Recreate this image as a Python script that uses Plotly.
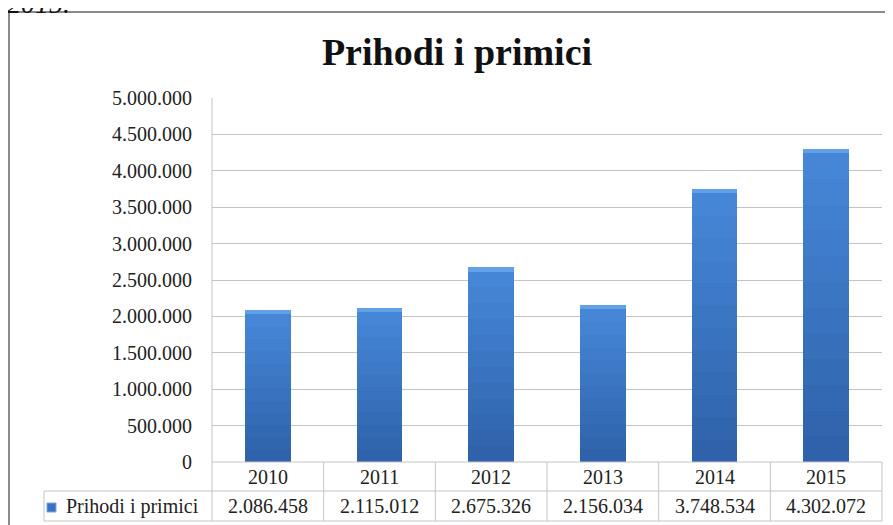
import plotly.graph_objects as go

# ---- data ----
years = ["2010", "2011", "2012", "2013", "2014", "2015"]
values = [2086458, 2115012, 2675326, 2156034, 3748534, 4302072]
series_name = "Prihodi i primici"
chart_title = "Prihodi i primici"
y_tick_values = [0, 500000, 1000000, 1500000, 2000000, 2500000, 3000000,
                 3500000, 4000000, 4500000, 5000000]

# ---- geometry (screen pixels; page body has an 8px margin) ----
OFF = 8
W, H = 893 - OFF, 525 - OFF
L, R, T, B = 212, 882, 98, 462


def px(x):
    return (x - L) / (R - L)


def py(y):
    return (B - y) / (B - T)


def fmt(v):
    return f"{v:,}".replace(",", ".")


FONT = "Liberation Serif"
GRID = "#c4c4c4"
TXT = "#222222"
FS = 20

# gradient segments (bottom dark -> top light) plus light bevel cap
top_rgb = (0x46, 0x88, 0xD8)
bot_rgb = (0x2E, 0x60, 0xA8)
n_seg = 12
cap = 60000

xidx = list(range(len(years)))

fig = go.Figure()
for i in range(n_seg):
    t = (i + 0.5) / n_seg
    c = tuple(round(bot_rgb[k] + (top_rgb[k] - bot_rgb[k]) * t) for k in range(3))
    fig.add_trace(go.Bar(
        x=xidx,
        y=[(v - cap) / n_seg for v in values],
        marker=dict(color="rgb(%d,%d,%d)" % c, line=dict(width=0)),
        width=0.41,
        hoverinfo="skip",
        showlegend=False,
    ))
fig.add_trace(go.Bar(
    x=xidx, y=[cap for v in values],
    marker=dict(color="#62a0e8", line=dict(width=0)),
    width=0.41, hoverinfo="skip", showlegend=False,
))

shapes = []
line = dict(color=GRID, width=1)
# table horizontal lines
shapes.append(dict(type="line", xref="paper", yref="paper", x0=px(44), x1=px(R), y0=py(491), y1=py(491), line=line))
shapes.append(dict(type="line", xref="paper", yref="paper", x0=px(44), x1=px(R), y0=py(521), y1=py(521), line=line))
shapes.append(dict(type="line", xref="paper", yref="paper", x0=px(L), x1=px(R), y0=py(B), y1=py(B), line=line))
# table vertical lines
shapes.append(dict(type="line", xref="paper", yref="paper", x0=px(44), x1=px(44), y0=py(491), y1=py(521), line=line))
shapes.append(dict(type="line", xref="paper", yref="paper", x0=px(L), x1=px(L), y0=py(T), y1=py(521), line=line))
ncat = len(years)
for i in range(1, ncat + 1):
    xx = L + (R - L) * i / ncat
    shapes.append(dict(type="line", xref="paper", yref="paper", x0=px(xx), x1=px(xx), y0=py(B), y1=py(521), line=line))
# legend key
shapes.append(dict(type="rect", xref="paper", yref="paper", x0=px(47), x1=px(56), y0=py(512), y1=py(503),
                   fillcolor="#3a72c2", line=dict(color="#7aa6de", width=1)))
# outer border
shapes.append(dict(type="rect", xref="paper", yref="paper", x0=px(9), x1=px(905), y0=py(12), y1=py(540),
                   line=dict(color="#8a8a8a", width=2), fillcolor="rgba(0,0,0,0)"))

annotations = []
for i, (yr, v) in enumerate(zip(years, values)):
    annotations.append(dict(x=i, xref="x", y=py(477), yref="paper", text=yr, showarrow=False,
                            font=dict(family=FONT, size=FS, color=TXT), xanchor="center", yanchor="middle"))
    annotations.append(dict(x=i, xref="x", y=py(506), yref="paper", text=fmt(v), showarrow=False,
                            font=dict(family=FONT, size=FS, color=TXT), xanchor="center", yanchor="middle"))
annotations.append(dict(x=px(64), xref="paper", y=py(506), yref="paper", text=series_name, showarrow=False,
                        font=dict(family=FONT, size=FS, color=TXT), xanchor="left", yanchor="middle"))
annotations.append(dict(x=px(5), xref="paper", y=py(3), yref="paper", text="<i>2015.</i>", showarrow=False,
                        font=dict(family=FONT, size=28, color="#111111"), xanchor="left", yanchor="middle"))

fig.update_layout(
    width=W, height=H,
    margin=dict(l=L - OFF, r=W + OFF - R, t=T - OFF, b=H + OFF - B, pad=0),
    paper_bgcolor="white", plot_bgcolor="white",
    barmode="stack", bargap=0.59,
    separators=",.",
    title=dict(text="<b>" + chart_title + "</b>", x=(457 - OFF) / W, xanchor="center",
               y=1 - (52 - OFF) / H, yanchor="middle", yref="container",
               font=dict(family=FONT, size=38, color="#111111")),
    xaxis=dict(range=[-0.5, len(years) - 0.5], showticklabels=False, showgrid=False, zeroline=False,
               showline=False, ticks=""),
    yaxis=dict(range=[0, 5000000], tickvals=y_tick_values, tickformat=",d",
               showgrid=True, gridcolor=GRID, gridwidth=1, zeroline=False,
               showline=False, ticks="", ticklabelstandoff=19,
               tickfont=dict(family=FONT, size=FS, color=TXT)),
    shapes=shapes,
    annotations=annotations,
    showlegend=False,
)

fig.write_html("out.html")
